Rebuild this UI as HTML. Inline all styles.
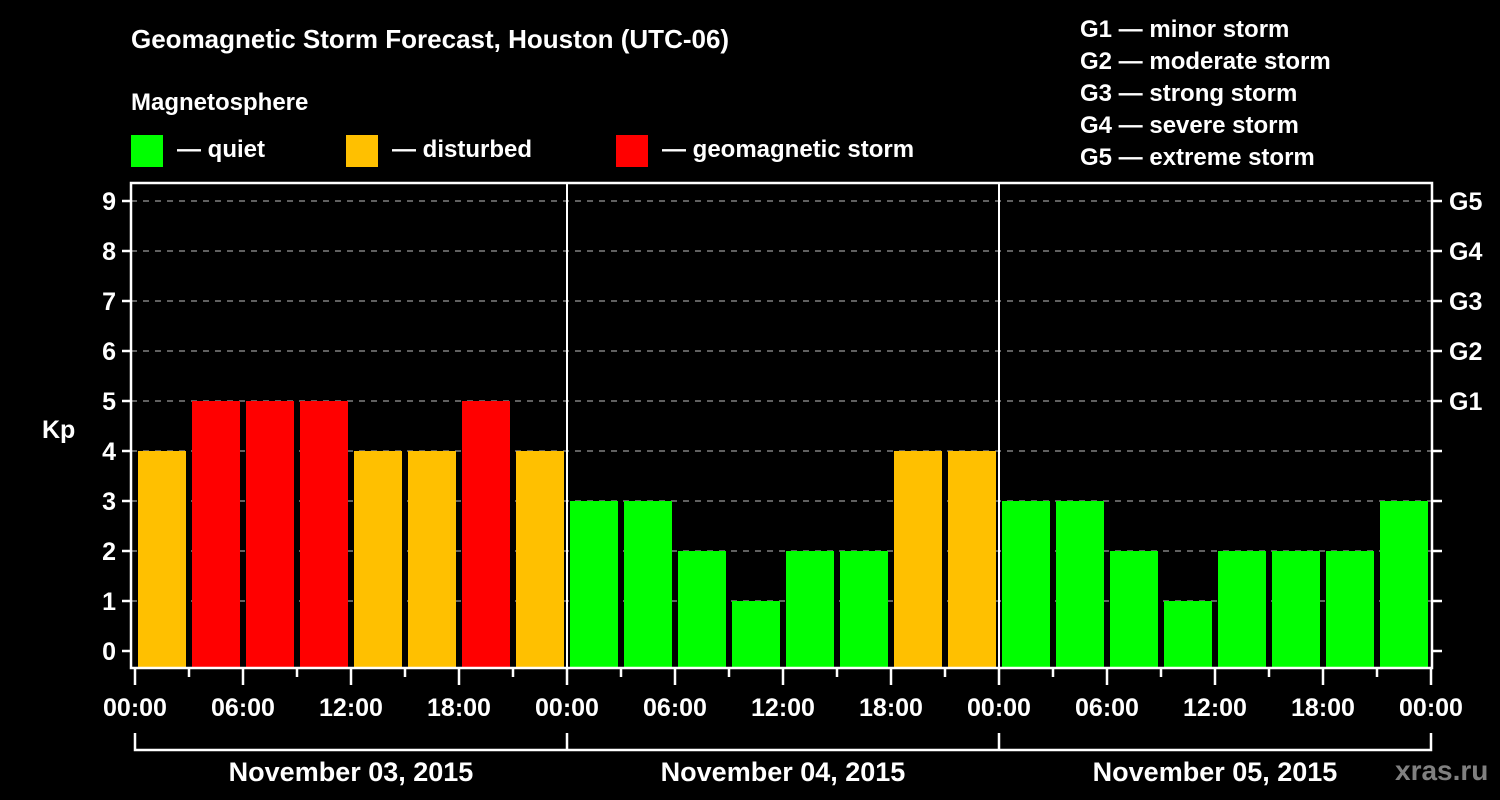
<!DOCTYPE html>
<html><head><meta charset="utf-8"><style>
html,body{margin:0;padding:0;background:#000;}
svg{display:block;font-family:"Liberation Sans",sans-serif;font-weight:bold;}
</style></head><body>
<svg id="chart" width="1500" height="800" viewBox="0 0 1500 800">
<rect width="1500" height="800" fill="#000"/>
<text x="131" y="48" fill="#fff" font-size="26">Geomagnetic Storm Forecast, Houston (UTC-06)</text>
<text x="131" y="110" fill="#fff" font-size="24">Magnetosphere</text>
<g><rect x="131" y="135" width="32" height="32" fill="#00ff00"/><text x="177" y="157" fill="#fff" font-size="24">— quiet</text></g>
<g><rect x="346" y="135" width="32" height="32" fill="#ffc000"/><text x="392" y="157" fill="#fff" font-size="24">— disturbed</text></g>
<g><rect x="616" y="135" width="32" height="32" fill="#ff0000"/><text x="662" y="157" fill="#fff" font-size="24">— geomagnetic storm</text></g>
<g fill="#fff" font-size="24">
<text x="1080" y="37">G1 — minor storm</text>
<text x="1080" y="69">G2 — moderate storm</text>
<text x="1080" y="101">G3 — strong storm</text>
<text x="1080" y="133">G4 — severe storm</text>
<text x="1080" y="165">G5 — extreme storm</text>
</g>
<g id="grid"></g>
<g id="bars"></g>
<g id="axes"></g>
<text x="1395" y="780" fill="#808080" font-size="28">xras.ru</text>
</svg>
<script>
const days = ["November 03, 2015","November 04, 2015","November 05, 2015"];
const kpValues = [4,5,5,5,4,4,5,4, 3,3,2,1,2,2,4,4, 3,3,2,1,2,2,2,3];
const yTicks = [0,1,2,3,4,5,6,7,8,9];
const gLabels = ["G1","G2","G3","G4","G5"];
const hourLabels = ["00:00","06:00","12:00","18:00"];

const NS="http://www.w3.org/2000/svg";
const L=131,R=1432,T=183,B=668;
const x0=135, pxPerHour=18;
const xs=h=>x0+h*pxPerHour;
const ys=v=>651-v*50;
function el(tag,attrs,parent,txt){const e=document.createElementNS(NS,tag);for(const k in attrs)e.setAttribute(k,attrs[k]);if(txt!==undefined)e.textContent=txt;parent.appendChild(e);return e;}
const grid=document.getElementById('grid'),bars=document.getElementById('bars'),axes=document.getElementById('axes');
const color=v=>v>=5?"#ff0000":(v>=4?"#ffc000":"#00ff00");

yTicks.forEach(v=>{
  if(v>0){const g=el('line',{x1:L,x2:R,y1:ys(v),y2:ys(v),stroke:"#808080","stroke-width":1.5,"stroke-dasharray":"6,6"},grid);
  
  }
  const t=el('line',{x1:L-9,x2:L,y1:ys(v),y2:ys(v),stroke:"#fff","stroke-width":2.5},axes);
  
  
  const lb=el('text',{x:116,y:ys(v)+9,fill:"#fff","font-size":25,"text-anchor":"end"},axes,String(v));
  
  
  const rt=el('line',{x1:R,x2:R+10,y1:ys(v),y2:ys(v),stroke:"#fff","stroke-width":2.5},axes);
  
  
});
gLabels.forEach((g,i)=>{
  const t=el('text',{x:1449,y:ys(5+i)+9,fill:"#fff","font-size":25},axes,g);
  
  
});
const ylab=el('text',{x:42,y:438,fill:"#fff","font-size":25},axes,"Kp");



kpValues.forEach((v,i)=>{
  const xa=xs(i*3)+3, w=3*pxPerHour-6;
  const b=el('rect',{x:xa,y:ys(v),width:w,height:B-ys(v),fill:color(v)},bars);
  
  
});

const frame=el('rect',{x:L,y:T,width:R-L,height:B-T,fill:"none",stroke:"#fff","stroke-width":2.5},axes);


for(let d=1;d<days.length;d++){
  const dl=el('line',{x1:xs(d*24),x2:xs(d*24),y1:T,y2:B,stroke:"#fff","stroke-width":2},axes);
  
  
}
for(let h=0;h<=days.length*24;h+=3){
  const major=h%6===0;
  const t=el('line',{x1:xs(h),x2:xs(h),y1:B,y2:major?685:677,stroke:"#fff","stroke-width":2.5},axes);
  
  
  if(major){
    const lb=el('text',{x:xs(h),y:716,fill:"#fff","font-size":25,"text-anchor":"middle"},axes,hourLabels[(h/6)%4]);
    
    
  }
}
const nTot=days.length*24;
const br=el('path',{d:`M${xs(0)},733V750H${xs(nTot)}V733`,fill:"none",stroke:"#fff","stroke-width":2.5},axes);


days.forEach((d,i)=>{
  if(i>0){const s=el('line',{x1:xs(i*24),x2:xs(i*24),y1:733,y2:750,stroke:"#fff","stroke-width":2.5},axes);
  
  }
  const t=el('text',{x:xs(i*24+12),y:781,fill:"#fff","font-size":27,"text-anchor":"middle"},axes,d);
  
  
});
</script>
</body></html>
